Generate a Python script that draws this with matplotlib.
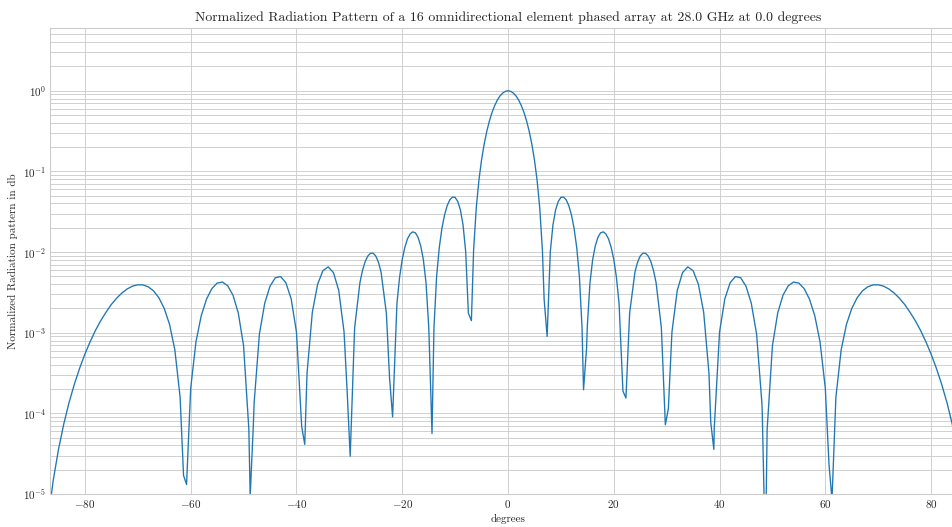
import matplotlib
matplotlib.use("Agg")
import matplotlib.pyplot as plt

# Normalized radiation pattern (left half, -87 .. -0.5 degrees)
left_deg = [
    -87, -86, -85, -84, -83, -82, -81, -80, -79, -78, -77, -76, -75, -74, -73,
    -72, -71, -70, -69, -68, -67, -66, -65, -64, -63, -62, -61.35, -60.78, -60,
    -59, -58, -57, -56, -55, -54, -53, -52, -51, -50, -49, -48.75, -48.17, -48,
    -47, -46, -45, -44, -43, -42, -41, -40, -39.01, -38.43, -38, -37, -36, -35,
    -34, -33, -32, -31, -30.41, -29.84, -29, -28, -27.5, -27, -26.5, -26, -25.5,
    -25, -24.5, -24, -23, -22.39, -21.82, -21, -20.5, -20, -19.5, -19, -18.5, -18,
    -17.5, -17, -16.5, -16, -15.5, -15, -14.94, -14.37, -14, -13.5, -13, -12.5, -12,
    -11.5, -11, -10.5, -10, -9.5, -9, -8.5, -8, -7.49, -6.92, -6.5, -6, -5.5, -5,
    -4.5, -4, -3.5, -3, -2.5, -2, -1.5, -1, -0.5,
]
left_level = [
    4.6e-6, 1.46e-5, 3.56e-5, 7.36e-5, 1.36e-4, 2.29e-4, 3.62e-4, 5.43e-4, 7.76e-4,
    1.07e-3, 1.41e-3, 1.80e-3, 2.24e-3, 2.68e-3, 3.11e-3, 3.49e-3, 3.78e-3, 3.93e-3,
    3.91e-3, 3.70e-3, 3.29e-3, 2.70e-3, 2.00e-3, 1.27e-3, 6.17e-4, 1.59e-4, 1.70e-5,
    1.31e-5, 2.04e-4, 7.72e-4, 1.63e-3, 2.61e-3, 3.52e-3, 4.12e-3, 4.25e-3, 3.82e-3,
    2.92e-3, 1.76e-3, 6.9e-4, 6.34e-5, 9.4e-6, 6.75e-5, 1.36e-4, 9.66e-4, 2.32e-3,
    3.77e-3, 4.80e-3, 4.97e-3, 4.16e-3, 2.63e-3, 1.02e-3, 6.87e-5, 4.12e-5, 3.13e-4,
    1.79e-3, 3.98e-3, 5.88e-3, 6.55e-3, 5.56e-3, 3.33e-3, 1.02e-3, 1.85e-4, 2.94e-5,
    1.15e-3, 4.17e-3, 5.97e-3, 7.65e-3, 8.95e-3, 9.67e-3, 9.67e-3, 8.92e-3, 7.50e-3,
    5.63e-3, 1.75e-3, 2.71e-4, 9.05e-5, 2.30e-3, 4.87e-3, 8.11e-3, 0.0115, 0.0146,
    0.0168, 0.0178, 0.0173, 0.0152, 0.0119, 8.0e-3, 4.15e-3, 1.21e-3, 9.69e-4,
    5.63e-5, 1.15e-3, 4.96e-3, 0.0113, 0.0196, 0.0288, 0.0376, 0.0445, 0.0481,
    0.0476, 0.0424, 0.0333, 0.0217, 0.0101, 1.74e-3, 1.41e-3, 0.0107, 0.0354,
    0.0777, 0.139, 0.219, 0.316, 0.426, 0.543, 0.659, 0.770, 0.865, 0.938, 0.984,
]

# right half, 0 .. 87 degrees
right_deg = [
    0, 0.5, 1, 1.5, 2, 2.5, 3, 3.5, 4, 4.5, 5, 5.5, 6, 6.5, 6.83, 7.40, 8, 8.5, 9,
    9.5, 10, 10.5, 11, 11.5, 12, 12.5, 13, 13.5, 14, 14.28, 14.85, 15, 15.5, 16,
    16.5, 17, 17.5, 18, 18.5, 19, 19.5, 20, 20.5, 21, 21.73, 22.30, 23, 24, 24.5,
    25, 25.5, 26, 26.5, 27, 27.5, 28, 29, 29.75, 30.32, 31, 32, 33, 34, 35, 36, 37,
    38, 38.34, 38.92, 39, 40, 41, 42, 43, 44, 45, 46, 47, 48, 48.08, 48.66, 49, 50,
    51, 52, 53, 54, 55, 56, 57, 58, 59, 60, 60.69, 61.26, 62, 63, 64, 65, 66, 67,
    68, 69, 70, 71, 72, 73, 74, 75, 76, 77, 78, 79, 80, 81, 82, 83, 84, 85, 86, 87,
]
right_level = [
    1.0, 0.984, 0.938, 0.865, 0.770, 0.659, 0.543, 0.426, 0.316, 0.219, 0.139,
    0.0777, 0.0354, 0.0107, 2.61e-3, 9.0e-4, 0.0101, 0.0217, 0.0333, 0.0424, 0.0476,
    0.0481, 0.0445, 0.0376, 0.0288, 0.0196, 0.0113, 4.96e-3, 1.15e-3, 1.96e-4,
    6.34e-4, 1.21e-3, 4.15e-3, 8.0e-3, 0.0119, 0.0152, 0.0173, 0.0178, 0.0168,
    0.0146, 0.0115, 8.11e-3, 4.87e-3, 2.30e-3, 1.89e-4, 1.55e-4, 1.75e-3, 5.63e-3,
    7.50e-3, 8.92e-3, 9.67e-3, 9.67e-3, 8.95e-3, 7.65e-3, 5.97e-3, 4.17e-3, 1.15e-3,
    7.24e-5, 1.14e-4, 1.02e-3, 3.33e-3, 5.56e-3, 6.55e-3, 5.88e-3, 3.98e-3, 1.79e-3,
    3.13e-4, 7.70e-5, 3.58e-5, 6.57e-5, 1.02e-3, 2.63e-3, 4.16e-3, 4.97e-3, 4.80e-3,
    3.77e-3, 2.32e-3, 9.66e-4, 1.36e-4, 1.00e-4, 1.65e-6, 6.34e-5, 6.9e-4, 1.76e-3,
    2.92e-3, 3.82e-3, 4.25e-3, 4.12e-3, 3.52e-3, 2.61e-3, 1.63e-3, 7.72e-4, 2.04e-4,
    2.36e-5, 8.5e-6, 1.59e-4, 6.17e-4, 1.27e-3, 2.00e-3, 2.70e-3, 3.29e-3, 3.70e-3,
    3.91e-3, 3.93e-3, 3.78e-3, 3.49e-3, 3.11e-3, 2.68e-3, 2.24e-3, 1.80e-3, 1.41e-3,
    1.07e-3, 7.76e-4, 5.43e-4, 3.62e-4, 2.29e-4, 1.36e-4, 7.36e-5, 3.56e-5, 1.46e-5,
    4.6e-6,
]

n_elements = 16
freq_ghz = 28.0
steer_deg = 0.0

plt.style.use("seaborn-v0_8-whitegrid")
plt.rcParams["font.family"] = "serif"
plt.rcParams["font.serif"] = ["cmr10"]
plt.rcParams["mathtext.fontset"] = "cm"
plt.rcParams["axes.formatter.use_mathtext"] = True

DPI = 80
fig = plt.figure(figsize=(952 / DPI, 527 / DPI), dpi=DPI)
# axes runs a little past the right edge, as in the reference crop
ax = fig.add_axes([50 / 952, 33 / 527, 916 / 952, 466 / 527])

ax.plot(left_deg + right_deg, left_level + right_level, color="#1f77b4", linewidth=1.2)
ax.set_yscale("log")
ax.set_xlim(-86.6, 86.6)
ax.set_ylim(1e-5, 6.0)
ax.grid(True, which="major", axis="both")
ax.yaxis.grid(True, which="minor")

ax.set_title(
    f"Normalized Radiation Pattern of a {n_elements} omnidirectional element phased array "
    f"at {freq_ghz} GHz at {steer_deg} degrees",
    fontsize=12.4,
)
ax.set_xlabel("degrees")
ax.set_ylabel("Normalized Radiation pattern in db")

fig.savefig("out.png", dpi=DPI)
